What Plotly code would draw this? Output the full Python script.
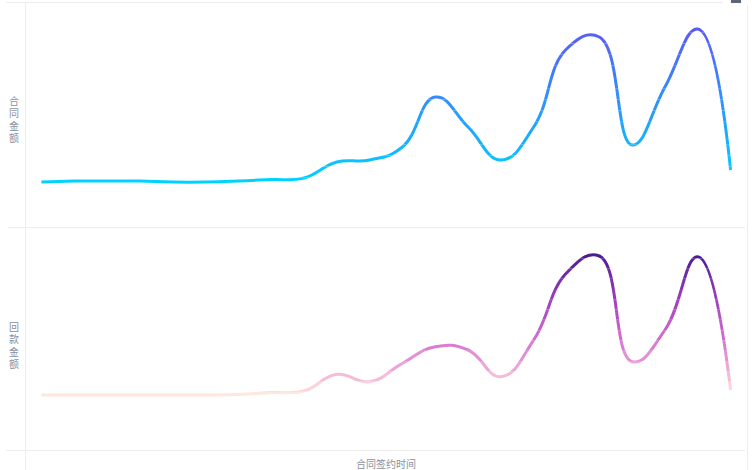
import plotly.graph_objects as go

# ---------------- data ----------------
periods = ["2019-01", "2019-02", "2019-03", "2019-04", "2019-05", "2019-06",
           "2019-07", "2019-08", "2019-09", "2019-10", "2019-11", "2019-12",
           "2020-01", "2020-02", "2020-03", "2020-04", "2020-05", "2020-06",
           "2020-07", "2020-08", "2020-09", "2020-10"]
contract_amount = [45, 46, 46, 46, 45, 45, 46, 47.5, 49, 65, 67, 80,
                   130, 100, 67, 100, 178, 190, 82, 140, 198, 57]
collection_amount = [55, 55, 55, 55, 55, 55, 55.5, 57.5, 59, 75.7, 68.3, 86.7,
                     103.3, 100, 73.3, 110, 177, 194, 88.3, 120, 193.3, 60]

top_title = "合同金额"
bottom_title = "回款金额"
x_title = "合同签约时间"

# ---------------- styling ----------------
W, H = 752, 470
PLOT_L, PLOT_R = 25, 747
TOP_PX = (2, 227)        # pixel rows of upper grid (top, bottom)
BOT_PX = (227, 450)      # pixel rows of lower grid
TOP_RANGE = (0, 225)
BOT_RANGE = (0, 223)
TOP_BANDS = (38, 206)    # value span split into colour bands
BOT_BANDS = (48, 202)
NBANDS = 15
LINE_W = 3
SMOOTH = 1.3

top_stops = [(45, (0, 210, 255)), (120, (45, 150, 252)), (200, (92, 90, 245))]
bot_stops = [(55, (255, 230, 222)), (75, (242, 185, 215)), (110, (215, 112, 210)),
             (150, (160, 62, 190)), (195, (75, 28, 150))]


def color_at(v, stops):
    if v <= stops[0][0]:
        c = stops[0][1]
    elif v >= stops[-1][0]:
        c = stops[-1][1]
    else:
        for (v0, c0), (v1, c1) in zip(stops[:-1], stops[1:]):
            if v0 <= v <= v1:
                t = (v - v0) / (v1 - v0)
                c = tuple(a + (b - a) * t for a, b in zip(c0, c1))
                break
    return "rgb(%d,%d,%d)" % tuple(round(x) for x in c)


fig = go.Figure()
layout = {}
axis_idx = [1]


def add_gradient_line(values, px_span, vrange, bands, stops, name):
    top_px, bot_px = px_span
    vmin, vmax = vrange
    b0, b1 = bands
    step = (b1 - b0) / NBANDS
    for j in range(NBANDS):
        lo = b0 + j * step
        hi = lo + step
        cval = (lo + hi) / 2
        if j == 0:
            lo = vmin
        if j == NBANDS - 1:
            hi = vmax
        px_lo = bot_px - (lo - vmin) / (vmax - vmin) * (bot_px - top_px)
        px_hi = bot_px - (hi - vmin) / (vmax - vmin) * (bot_px - top_px)
        i = axis_idx[0]
        axis_idx[0] += 1
        key = "yaxis" if i == 1 else "yaxis%d" % i
        ref = "y" if i == 1 else "y%d" % i
        layout[key] = dict(domain=[1 - px_lo / H, 1 - px_hi / H], range=[lo, hi],
                           visible=False, anchor="x", fixedrange=True)
        fig.add_trace(go.Scatter(
            x=periods, y=values, mode="lines", name=name, yaxis=ref, xaxis="x",
            line=dict(shape="spline", smoothing=SMOOTH, width=LINE_W, simplify=False,
                      color=color_at(cval, stops)),
            hoverinfo="skip", showlegend=False))


add_gradient_line(contract_amount, TOP_PX, TOP_RANGE, TOP_BANDS, top_stops, top_title)
add_gradient_line(collection_amount, BOT_PX, BOT_RANGE, BOT_BANDS, bot_stops, bottom_title)

grid_c = "#ededed"


def px_line(x0, y0, x1, y1):
    return dict(type="line", xref="paper", yref="paper", layer="below",
                x0=x0 / W, x1=x1 / W, y0=1 - y0 / H, y1=1 - y1 / H,
                line=dict(color=grid_c, width=1))


shapes = [
    px_line(25.5, 3, 25.5, 470),
    px_line(747.5, 5, 747.5, 470),
    px_line(6, 2.5, 723, 2.5),
    px_line(8, 227.5, 745, 227.5),
    px_line(6, 450.5, 745, 450.5),
    dict(type="rect", xref="paper", yref="paper", layer="above",
         x0=731 / W, x1=741 / W, y0=1 - 3 / H, y1=1.0,
         fillcolor="#5d6577", line=dict(width=0)),
]

txt_color = "#8a8f9c"
annotations = []
for title, y_first in ((top_title, 100.5), (bottom_title, 326.5)):
    for n, ch in enumerate(title):
        annotations.append(dict(
            text=ch, x=14 / W, y=1 - (y_first + n * 12.3) / H, xref="paper", yref="paper",
            showarrow=False, font=dict(family="Noto Sans CJK SC", size=10, color=txt_color),
            height=11, xanchor="center", yanchor="middle"))
annotations.append(dict(
    text=x_title, x=386 / W, y=1 - 463 / H, xref="paper", yref="paper",
    showarrow=False, font=dict(family="Noto Sans CJK SC", size=10, color=txt_color),
    xanchor="center", yanchor="middle"))

layout["xaxis"] = dict(domain=[PLOT_L / W, PLOT_R / W], type="category",
                       categoryorder="array", categoryarray=periods,
                       range=[-0.5, len(periods) - 0.5], visible=False, fixedrange=True)

fig.update_layout(
    width=W, height=H, margin=dict(l=0, r=0, t=0, b=0),
    paper_bgcolor="white", plot_bgcolor="rgba(0,0,0,0)",
    shapes=shapes, annotations=annotations, showlegend=False,
    **layout)

fig.write_html("out.html", config={"displayModeBar": False},
               post_script="document.body.style.margin='0px';"
                           "document.body.style.padding='0px';"
                           "document.body.style.overflow='hidden';")
